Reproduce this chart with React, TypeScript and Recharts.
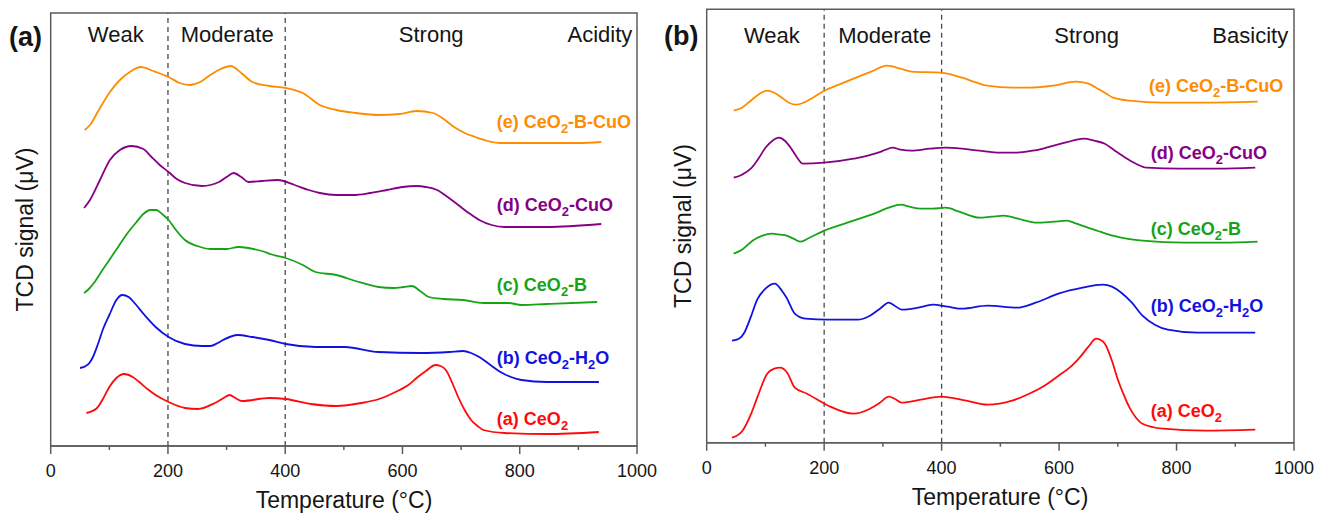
import React from 'react';
import { LineChart, Line, XAxis, YAxis, ReferenceLine, ReferenceArea, ReferenceDot } from 'recharts';

const FONT = '"Liberation Sans", Arial, sans-serif';
const FRAME = '#5c5c5c';
const INK = '#151515';

const RED = '#FF0A0A';
const BLUE = '#1212E0';
const GREEN = '#17A317';
const PURPLE = '#850085';
const ORANGE = '#FF8C00';

const X_TICKS = [0, 100, 200, 300, 400, 500, 600, 700, 800, 900, 1000];
const ZONE_EDGES = [200, 400];

// (a) acidity panel — temperature (°C) and TCD signal (arbitrary offset units)
const acidE_t = [58, 67, 84, 101, 118, 135, 154, 175, 201, 220, 237, 255, 272, 290, 307, 325, 344, 373, 401, 430, 459, 487, 520, 559, 595, 624, 652, 670, 688, 706, 724, 745, 767, 846, 900, 939];
const acidE_v = [315, 320, 337, 353, 365, 373, 378, 374, 368, 362, 360, 363, 370, 376, 379, 372, 363, 359, 357, 352, 340, 335, 332, 330, 331, 334, 332, 326, 318, 312, 308, 304, 302, 302, 302, 303];

const acidD_t = [57, 67, 84, 101, 118, 138, 158, 172, 186, 201, 215, 229, 258, 287, 300, 312, 325, 337, 360, 387, 416, 440, 459, 487, 516, 545, 573, 600, 624, 640, 659, 677, 695, 713, 731, 752, 774, 846, 939];
const acidD_v = [237, 245, 265, 285, 295, 299, 296, 288, 280, 273, 266, 262, 259, 263, 268, 272, 268, 263, 264, 265, 260, 255, 252, 250, 250, 252, 255, 258, 259, 258, 255, 248, 240, 232, 225, 220, 218, 218, 221];

const acidC_t = [57, 65, 75, 86, 100, 115, 130, 145, 158, 170, 180, 190, 201, 215, 229, 250, 272, 300, 320, 337, 360, 380, 401, 430, 452, 487, 520, 559, 585, 602, 616, 630, 645, 670, 703, 738, 781, 803, 846, 932];
const acidC_v = [152, 156, 163, 173, 185, 198, 211, 222, 231, 235, 235, 231, 225, 214, 205, 199, 196, 196, 198, 197, 194, 190, 187, 180, 173, 170, 164, 158, 157, 158, 159, 154, 148, 146, 145, 142, 142, 140, 141, 143];

const acidB_t = [50, 60, 66, 72, 80, 90, 100, 112, 122, 133, 143, 160, 179, 201, 229, 258, 272, 285, 294, 319, 344, 373, 401, 452, 502, 559, 631, 680, 703, 717, 731, 750, 767, 785, 803, 846, 935];
const acidB_v = [77, 79, 82, 88, 100, 117, 130, 145, 150, 148, 142, 130, 118, 108, 101, 99, 99, 102, 105, 110, 108, 105, 101, 98, 98, 93, 92, 93, 94, 92, 88, 80, 73, 68, 65, 63, 63];

const acidA_t = [61, 79, 90, 100, 112, 125, 140, 151, 165, 179, 201, 229, 251, 280, 295, 305, 315, 326, 373, 401, 444, 487, 530, 560, 588, 610, 624, 640, 656, 665, 674, 685, 695, 706, 717, 728, 738, 774, 846, 935];
const acidA_v = [32, 37, 47, 58, 67, 71, 68, 63, 56, 50, 43, 37, 36, 42, 47, 50, 47, 44, 47, 46, 41, 39, 42, 46, 53, 60, 67, 74, 80, 79, 75, 62, 48, 35, 25, 19, 15, 12, 11, 13];

// (b) basicity panel
const baseE_t = [46, 60, 75, 90, 103, 115, 128, 140, 153, 165, 178, 200, 225, 250, 280, 307, 330, 349, 399, 435, 460, 478, 520, 549, 590, 628, 650, 663, 678, 692, 720, 777, 850, 938];
const baseE_v = [332, 335, 342, 349, 352, 350, 345, 340, 338, 340, 344, 352, 358, 364, 371, 377, 374, 371, 370, 365, 360, 357, 355, 355, 357, 361, 359, 355, 350, 345, 342, 340, 340, 341];

const baseD_t = [46, 60, 75, 88, 100, 112, 123, 133, 143, 153, 164, 200, 250, 292, 305, 317, 330, 349, 380, 407, 435, 464, 500, 528, 555, 578, 610, 642, 660, 678, 695, 713, 731, 749, 806, 870, 934];
const baseD_v = [265, 268, 274, 284, 295, 302, 305, 302, 295, 286, 279, 280, 284, 290, 293, 295, 293, 292, 294, 295, 294, 292, 290, 290, 292, 295, 300, 304, 302, 299, 292, 285, 279, 275, 274, 274, 275];

const baseC_t = [46, 60, 78, 95, 111, 125, 136, 148, 160, 175, 200, 250, 285, 310, 331, 345, 364, 385, 407, 430, 464, 485, 506, 530, 563, 590, 613, 630, 649, 670, 692, 715, 742, 813, 880, 938];
const baseC_v = [189, 193, 202, 207, 209, 208, 207, 204, 201, 205, 212, 222, 229, 235, 238, 236, 234, 234, 235, 231, 225, 226, 227, 224, 220, 221, 222, 219, 215, 211, 207, 204, 202, 200, 200, 201];

const baseB_t = [43, 55, 64, 74, 86, 100, 116, 128, 136, 150, 168, 207, 257, 278, 295, 310, 320, 332, 360, 385, 410, 435, 478, 528, 560, 599, 640, 674, 690, 706, 724, 742, 763, 785, 835, 934];
const baseB_v = [102, 104, 110, 124, 143, 154, 159, 152, 145, 129, 124, 123, 123, 127, 134, 140, 137, 133, 135, 138, 136, 134, 137, 135, 140, 149, 155, 158, 156, 150, 140, 127, 118, 113, 110, 110];

const baseA_t = [43, 61, 75, 86, 103, 115, 125, 137, 150, 171, 207, 250, 278, 295, 310, 320, 332, 365, 399, 442, 478, 520, 549, 575, 599, 620, 635, 650, 663, 670, 678, 690, 699, 710, 720, 731, 742, 777, 849, 934];
const baseA_v = [5, 12, 28, 45, 69, 74, 75, 70, 55, 49, 37, 29, 34, 40, 46, 44, 40, 43, 46, 42, 38, 42, 49, 57, 67, 76, 85, 96, 104, 103, 99, 82, 65, 48, 35, 25, 19, 14, 12, 13];

const zip = (t: number[], v: number[]) => t.map((x, i) => ({ t: x, v: v[i] }));

type Part = [string, boolean];
type Series = { key: string; color: string; t: number[]; v: number[]; tag: Part[]; tagAt: [number, number] };
type Zone = { text: string; at: number; anchor: 'middle' | 'end' };

const acidSeries: Series[] = [
  { key: 'e', color: ORANGE, t: acidE_t, v: acidE_v, tag: [['(e) CeO', false], ['2', true], ['-B-CuO', false]], tagAt: [761, 324] },
  { key: 'd', color: PURPLE, t: acidD_t, v: acidD_v, tag: [['(d) CeO', false], ['2', true], ['-CuO', false]], tagAt: [761, 241] },
  { key: 'c', color: GREEN, t: acidC_t, v: acidC_v, tag: [['(c) CeO', false], ['2', true], ['-B', false]], tagAt: [761, 161] },
  { key: 'b', color: BLUE, t: acidB_t, v: acidB_v, tag: [['(b) CeO', false], ['2', true], ['-H', false], ['2', true], ['O', false]], tagAt: [761, 88] },
  { key: 'a', color: RED, t: acidA_t, v: acidA_v, tag: [['(a) CeO', false], ['2', true]], tagAt: [761, 27] },
];

const baseSeries: Series[] = [
  { key: 'e', color: ORANGE, t: baseE_t, v: baseE_v, tag: [['(e) CeO', false], ['2', true], ['-B-CuO', false]], tagAt: [753, 357] },
  { key: 'd', color: PURPLE, t: baseD_t, v: baseD_v, tag: [['(d) CeO', false], ['2', true], ['-CuO', false]], tagAt: [756, 290] },
  { key: 'c', color: GREEN, t: baseC_t, v: baseC_v, tag: [['(c) CeO', false], ['2', true], ['-B', false]], tagAt: [756, 214] },
  { key: 'b', color: BLUE, t: baseB_t, v: baseB_v, tag: [['(b) CeO', false], ['2', true], ['-H', false], ['2', true], ['O', false]], tagAt: [756, 137] },
  { key: 'a', color: RED, t: baseA_t, v: baseA_v, tag: [['(a) CeO', false], ['2', true]], tagAt: [756, 32] },
];

const acidZones: Zone[] = [
  { text: 'Weak', at: 111, anchor: 'middle' },
  { text: 'Moderate', at: 301, anchor: 'middle' },
  { text: 'Strong', at: 649, anchor: 'middle' },
  { text: 'Acidity', at: 992, anchor: 'end' },
];
const baseZones: Zone[] = [
  { text: 'Weak', at: 111, anchor: 'middle' },
  { text: 'Moderate', at: 303, anchor: 'middle' },
  { text: 'Strong', at: 647, anchor: 'middle' },
  { text: 'Basicity', at: 990, anchor: 'end' },
];

const TempTick = (props: any) => {
  const { x, y, payload } = props;
  const major = payload.value % 200 === 0;
  return (
    <g>
      <line x1={x} x2={x} y1={y} y2={y + (major ? 8 : 4)} stroke={FRAME} strokeWidth={1.5} />
      {major && (
        <text x={x} y={y + 31} textAnchor="middle" fontSize={18} fill={INK} fontFamily={FONT}>
          {payload.value}
        </text>
      )}
    </g>
  );
};

const Tag = ({ cx, cy, color, parts }: any) => {
  const out: React.ReactNode[] = [];
  let low = false;
  parts.forEach(([s, sub]: Part, i: number) => {
    const dy = sub && !low ? 5 : !sub && low ? -5 : 0;
    low = sub;
    out.push(
      <tspan key={i} dy={dy} fontSize={sub ? 13 : 18}>
        {s}
      </tspan>
    );
  });
  return (
    <text x={cx} y={cy + 6.5} fill={color} fontWeight="bold" fontFamily={FONT}>
      {out}
    </text>
  );
};

type PanelProps = {
  left: number;
  width: number;
  top: number;
  plotLeft: number;
  plotRight: number;
  axisH: number;
  yDomain: [number, number];
  zoneY: number;
  series: Series[];
  zones: Zone[];
};

const Panel = ({ left, width, top, plotLeft, plotRight, axisH, yDomain, zoneY, series, zones }: PanelProps) => (
  <div style={{ position: 'absolute', left, top: 0 }}>
    <LineChart width={width} height={515} margin={{ top, left: plotLeft, right: width - plotRight, bottom: 0 }}>
      <XAxis
        type="number"
        dataKey="t"
        domain={[0, 1000]}
        ticks={X_TICKS}
        interval={0}
        height={axisH}
        tickSize={0}
        tickMargin={0}
        tickLine={false}
        tick={(p: any) => <TempTick {...p} />}
        axisLine={{ stroke: FRAME, strokeWidth: 1.5 }}
        allowDataOverflow
      />
      <YAxis type="number" domain={yDomain} hide allowDataOverflow />
      <ReferenceArea x1={0} x2={1000} y1={yDomain[0]} y2={yDomain[1]} fill="none" stroke={FRAME} strokeWidth={1.5} />
      {ZONE_EDGES.map((z) => (
        <ReferenceLine key={z} x={z} stroke="#4a4a4a" strokeWidth={1.3} strokeDasharray="5 4" />
      ))}
      {series.map((s) => (
        <Line
          key={s.key}
          data={zip(s.t, s.v)}
          dataKey="v"
          type="monotone"
          stroke={s.color}
          strokeWidth={1.8}
          dot={false}
          isAnimationActive={false}
        />
      ))}
      {zones.map((z) => (
        <ReferenceDot
          key={z.text}
          x={z.at}
          y={zoneY}
          r={0}
          ifOverflow="visible"
          shape={(p: any) => (
            <text x={p.cx} y={p.cy} textAnchor={z.anchor} fontSize={22} fill={INK} fontFamily={FONT}>
              {z.text}
            </text>
          )}
        />
      ))}
      {series.map((s) => (
        <ReferenceDot
          key={'tag' + s.key}
          x={s.tagAt[0]}
          y={s.tagAt[1]}
          r={0}
          ifOverflow="visible"
          shape={(p: any) => <Tag cx={p.cx} cy={p.cy} color={s.color} parts={s.tag} />}
        />
      ))}
    </LineChart>
  </div>
);

export default function App() {
  return (
    <div style={{ position: 'absolute', left: 0, top: 0, width: 1317, height: 515, background: '#fff', fontFamily: FONT }}>
      <Panel
        left={0}
        width={660}
        top={13}
        plotLeft={50.7}
        plotRight={637}
        axisH={69}
        yDomain={[-1, 432]}
        zoneY={403.5}
        series={acidSeries}
        zones={acidZones}
      />
      <Panel
        left={660}
        width={657}
        top={9.3}
        plotLeft={46.7}
        plotRight={634}
        axisH={72.3}
        yDomain={[0, 433.4]}
        zoneY={399.5}
        series={baseSeries}
        zones={baseZones}
      />
      <svg width={1317} height={515} style={{ position: 'absolute', left: 0, top: 0, pointerEvents: 'none' }} fontFamily={FONT}>
        <text x={9} y={46} fontSize={27} fontWeight="bold" fill={INK}>(a)</text>
        <text x={664} y={45} fontSize={27} fontWeight="bold" fill={INK}>(b)</text>
        <text x={33} y={229.5} fontSize={23} fill={INK} textAnchor="middle" transform="rotate(-90 33 229.5)">TCD signal (μV)</text>
        <text x={691} y={226} fontSize={23} fill={INK} textAnchor="middle" transform="rotate(-90 691 226)">TCD signal (μV)</text>
        <text x={344} y={508} fontSize={23} fill={INK} textAnchor="middle">Temperature (°C)</text>
        <text x={1000} y={505} fontSize={23} fill={INK} textAnchor="middle">Temperature (°C)</text>
      </svg>
    </div>
  );
}
